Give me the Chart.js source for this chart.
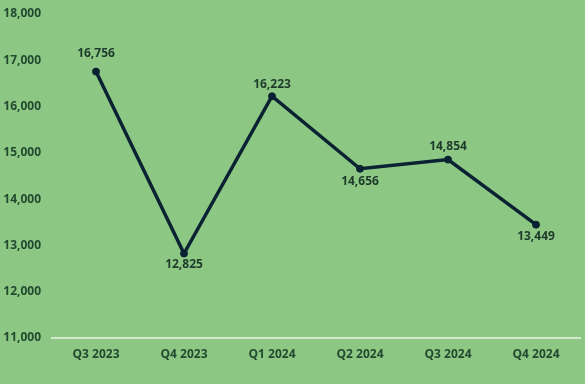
<!DOCTYPE html>
<html>
<head>
<meta charset="utf-8">
<script src="https://cdn.jsdelivr.net/npm/chart.js@4.4.1/dist/chart.umd.min.js"></script>
<style>
html,body{margin:0;padding:0;background:#8cc883;}
#wrap{width:585px;height:384px;position:relative;}
</style>
</head>
<body>
<div id="wrap"><canvas id="c" width="585" height="384"></canvas></div>
<script>
const categories = ["Q3 2023","Q4 2023","Q1 2024","Q2 2024","Q3 2024","Q4 2024"];
const values = [16756, 12825, 16223, 14656, 14854, 13449];
const yTicks = [11000,12000,13000,14000,15000,16000,17000,18000];

const fontFamily = "'Open Sans', 'Liberation Sans', sans-serif";
const textColor = "#234a30";

// pixel offsets of the value labels from their points (styling only)
const labelOffsets = [-18, 11, -12, 13, -13, 12];

const dataLabelPlugin = {
  id: "dataLabels",
  afterDatasetsDraw(chart) {
    const ctx = chart.ctx;
    const meta = chart.getDatasetMeta(0);
    ctx.save();
    ctx.font = "bold 12px " + fontFamily;
    ctx.fillStyle = "#1e3a2b";
    ctx.textAlign = "center";
    ctx.textBaseline = "middle";
    meta.data.forEach((pt, i) => {
      const txt = values[i].toLocaleString("en-US");
      ctx.fillText(txt, pt.x, pt.y + labelOffsets[i]);
    });
    ctx.restore();
  }
};

new Chart(document.getElementById("c"), {
  type: "line",
  data: {
    labels: categories,
    datasets: [{
      data: values,
      borderColor: "#0b2233",
      backgroundColor: "#0b2233",
      borderWidth: 3.5,
      pointRadius: 3.5,
      pointBorderWidth: 1,
      pointBackgroundColor: "#0b2233",
      pointBorderColor: "#0b2233",
      tension: 0
    }]
  },
  options: {
    responsive: false,
    animation: false,
    layout: { padding: { top: 14, right: 4, left: 0, bottom: 0 } },
    plugins: { legend: { display: false }, tooltip: { enabled: false } },
    scales: {
      x: {
        offset: true,
        grid: { display: false, drawTicks: false },
        border: { display: true, color: "#d6e7cf", width: 2 },
        ticks: { color: textColor, font: { family: fontFamily, size: 12, weight: "bold" }, padding: 9, maxRotation: 0 },
        afterFit(scale) { scale.height = 46; }
      },
      y: {
        min: 11000,
        max: 18000,
        afterBuildTicks(scale) { scale.ticks = yTicks.map(v => ({ value: v })); },
        grid: { display: false, drawTicks: false },
        border: { display: false },
        ticks: {
          color: textColor,
          font: { family: fontFamily, size: 12, weight: "bold" },
          padding: 11,
          callback: v => v.toLocaleString("en-US")
        },
        afterFit(scale) { scale.width = 52; scale.paddingTop = 0; scale.paddingBottom = 0; }
      }
    }
  },
  plugins: [dataLabelPlugin]
});
</script>
</body>
</html>
